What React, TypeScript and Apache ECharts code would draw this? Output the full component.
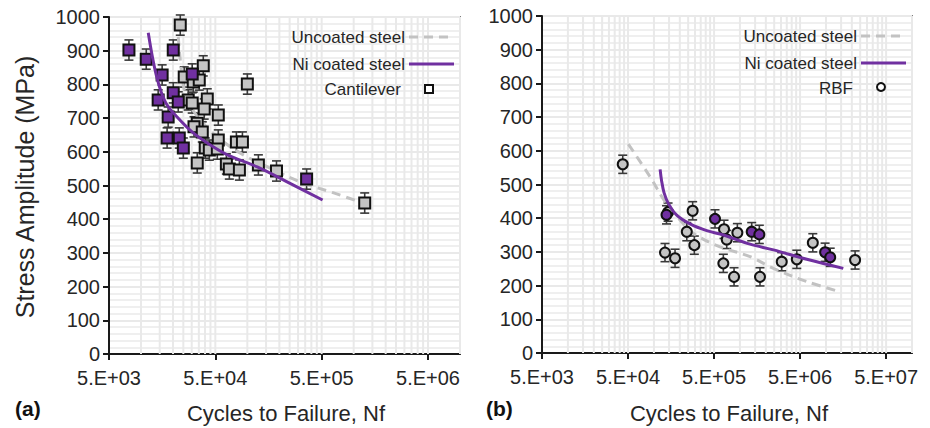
import React, { useEffect, useRef } from "react";
import * as echarts from "echarts";

const FONT = '"Liberation Sans", Arial, Helvetica, sans-serif';
const TEXT = "#262626";
const AXIS = "#1a1a1a";
const PURPLE = "#7030a0";
const GRAY_FILL = "#c4c4c4";
const DASH_GRAY = "#c2c2c2";
const GRID = "#e9e9e9";

// Axis tick labels
const tickLabelsA = ["5.E+03", "5.E+04", "5.E+05", "5.E+06"];
const tickLabelsB = ["5.E+03", "5.E+04", "5.E+05", "5.E+06", "5.E+07"];
const xMinN = 5000;
const xMaxNA = 1e7;
const xMaxNB = 1e8;

// (a) Cantilever - uncoated steel (gray squares)
const uncoatedA_N = [23400, 25500, 31000, 35300, 38500, 42000, 27800, 30300, 39300, 53300, 33800, 31500, 37700, 53300, 40200, 43900, 52200, 33800, 63500, 67700, 84200, 78900, 89900, 100000, 127000, 188000, 1270000];
const uncoatedA_S = [976, 822, 807, 813, 855, 757, 754, 745, 727, 709, 685, 674, 659, 635, 611, 605, 608, 567, 564, 549, 546, 629, 629, 801, 561, 543, 448];
// (a) Cantilever - Ni coated steel (purple squares)
const coatedA_N = [7700, 11200, 15800, 14500, 18000, 17600, 20100, 20100, 22400, 22900, 25000, 30300, 361000];
const coatedA_S = [902, 875, 828, 754, 703, 641, 902, 775, 748, 641, 611, 831, 519];
const errA = 30;

// (a) fit curves
const fitCoatedA_N = [11700, 12700, 13900, 15500, 17600, 21900, 31000, 44900, 64900, 124000, 239000, 510000];
const fitCoatedA_S = [953, 887, 828, 777, 739, 703, 656, 620, 591, 555, 510, 457];
const fitUncoatedA_N = [22400, 24400, 27200, 36100, 52200, 86100, 155000, 317000, 649000, 1220000];
const fitUncoatedA_S = [941, 822, 754, 694, 644, 596, 555, 510, 478, 448];

// (b) RBF - uncoated steel (gray circles)
const uncoatedB_N = [43400, 146000, 282000, 241000, 295000, 134500, 176000, 653000, 702000, 933000, 641000, 854000, 1710000, 3060000, 4580000, 7030000, 21800000];
const uncoatedB_S = [560, 418, 422, 360, 320, 298, 281, 367, 337, 357, 266, 226, 226, 271, 278, 327, 276];
// (b) RBF - Ni coated steel (purple circles)
const coatedB_N = [140000, 513000, 1370000, 1680000, 9770000, 11200000];
const coatedB_S = [410, 398, 360, 352, 299, 284];
const errB = 27;

// (b) fit curves
const fitCoatedB_N = [118000, 123000, 131000, 147000, 184000, 263000, 411000, 641000, 1310000, 2450000, 5980000, 15900000];
const fitCoatedB_S = [545, 510, 476, 444, 409, 383, 363, 350, 323, 306, 278, 251];
const fitUncoatedB_N = [50400, 90100, 134600, 201000, 287000, 587000, 1310000, 2450000, 5980000, 14400000];
const fitUncoatedB_S = [620, 523, 449, 395, 355, 315, 286, 251, 212, 182];

const u = (n: number) => Math.log10(n / xMinN);
const pairs = (ns: number[], ss: number[]) => ns.map((n, i) => [u(n), ss[i]]);
const triples = (ns: number[], ss: number[], e: number) => ns.map((n, i) => [u(n), ss[i], e]);

function gridValues(maxU: number) {
  const out: number[] = [];
  for (let d = 0; d <= Math.ceil(maxU); d++) {
    for (let k = 1; k <= 9; k++) {
      const v = d + Math.log10(k);
      if (v > 0.001 && v <= maxU + 1e-9) out.push(v);
    }
  }
  return out;
}

function xAxisFor(gridIndex: number, labels: string[], maxN: number) {
  const ticks = labels.map((_, i) => i);
  return {
    gridIndex,
    type: "value",
    min: 0,
    max: u(maxN),
    axisLine: { show: true, onZero: false, lineStyle: { color: AXIS, width: 2 } },
    axisTick: { show: true, customValues: ticks, length: 6, inside: false, lineStyle: { color: AXIS, width: 2 } },
    axisLabel: {
      customValues: ticks,
      formatter: (v: number) => labels[Math.round(v)] ?? "",
      fontSize: 20,
      fontFamily: FONT,
      color: TEXT,
      margin: 14,
    },
    splitLine: { show: false },
  };
}

function yAxisFor(gridIndex: number) {
  return {
    gridIndex,
    type: "value",
    min: 0,
    max: 1000,
    interval: 100,
    axisLine: { show: true, lineStyle: { color: AXIS, width: 2 } },
    axisTick: { show: true, length: 6, lineStyle: { color: AXIS, width: 2 } },
    axisLabel: { fontSize: 20, fontFamily: FONT, color: TEXT, margin: 9, formatter: (v: number) => String(v) },
    splitLine: { show: true, lineStyle: { color: GRID, width: 2 } },
    minorTick: { show: false, splitNumber: 5 },
    minorSplitLine: { show: true, lineStyle: { color: "#efefef", width: 2 } },
  };
}

function gridSeries(idx: number, maxN: number) {
  return {
    type: "custom",
    xAxisIndex: idx,
    yAxisIndex: idx,
    silent: true,
    z: 1,
    data: gridValues(u(maxN)).map((v) => [v, 0]),
    encode: { x: 0, y: 1 },
    renderItem: (params: any, api: any) => {
      const p = api.coord([api.value(0), 0]);
      const cs = params.coordSys;
      return {
        type: "line",
        shape: { x1: p[0], y1: cs.y, x2: p[0], y2: cs.y + cs.height },
        style: { stroke: GRID, lineWidth: 2 },
      };
    },
  };
}

function errorSeries(idx: number, data: number[][]) {
  return {
    type: "custom",
    xAxisIndex: idx,
    yAxisIndex: idx,
    silent: true,
    z: 3,
    data,
    encode: { x: 0, y: 1 },
    renderItem: (_params: any, api: any) => {
      const x = api.value(0);
      const y = api.value(1);
      const e = api.value(2);
      const top = api.coord([x, y + e]);
      const bot = api.coord([x, y - e]);
      const w = 4.5;
      const st = { stroke: "#3a3a3a", lineWidth: 1.6 };
      return {
        type: "group",
        children: [
          { type: "line", shape: { x1: top[0], y1: top[1], x2: bot[0], y2: bot[1] }, style: st },
          { type: "line", shape: { x1: top[0] - w, y1: top[1], x2: top[0] + w, y2: top[1] }, style: st },
          { type: "line", shape: { x1: bot[0] - w, y1: bot[1], x2: bot[0] + w, y2: bot[1] }, style: st },
        ],
      };
    },
  };
}

function scatterSeries(idx: number, data: number[][], symbol: string, fill: string) {
  return {
    type: "scatter",
    xAxisIndex: idx,
    yAxisIndex: idx,
    symbol,
    symbolSize: symbol === "rect" ? 11 : 10,
    z: 4,
    data,
    itemStyle: { color: fill, borderColor: "#111111", borderWidth: 2, opacity: 1 },
  };
}

function lineSeries(idx: number, data: number[][], color: string, dashed: boolean) {
  return {
    type: "line",
    xAxisIndex: idx,
    yAxisIndex: idx,
    showSymbol: false,
    smooth: 0.35,
    z: dashed ? 3.5 : 5,
    data,
    lineStyle: { color, width: 3, type: dashed ? [9, 6] : "solid" },
  };
}

function legendGraphic(x: number, y: number, thirdLabel: string, marker: "rect" | "circle", markerX: number) {
  const textStyle = { fontSize: 17, fontFamily: FONT, fill: TEXT, align: "right", verticalAlign: "middle" };
  const items: any[] = [
    { type: "text", z: 100, x, y: y, style: { ...textStyle, text: "Uncoated steel" } },
    { type: "line", z: 100, shape: { x1: x + 4, y1: y, x2: x + 49, y2: y }, style: { stroke: DASH_GRAY, lineWidth: 3, lineDash: [9, 6] } },
    { type: "text", z: 100, x, y: y + 27, style: { ...textStyle, text: "Ni coated steel" } },
    { type: "line", z: 100, shape: { x1: x + 4, y1: y + 27, x2: x + 49, y2: y + 27 }, style: { stroke: PURPLE, lineWidth: 3 } },
    { type: "text", z: 100, x: x - 4, y: y + 52, style: { ...textStyle, text: thirdLabel } },
  ];
  if (marker === "rect") {
    items.push({ type: "rect", z: 100, shape: { x: markerX - 4, y: y + 52 - 4, width: 8, height: 8 }, style: { fill: "#ffffff", stroke: "#111111", lineWidth: 2 } });
  } else {
    items.push({ type: "circle", z: 100, shape: { cx: markerX, cy: y + 51, r: 4 }, style: { fill: "#ffffff", stroke: "#111111", lineWidth: 2 } });
  }
  return items;
}

export default function App() {
  const ref = useRef<HTMLDivElement>(null);
  useEffect(() => {
    if (!ref.current) return;
    const chart = echarts.init(ref.current, undefined, { renderer: "svg" });
    const option: any = {
      animation: false,
      backgroundColor: "#ffffff",
      textStyle: { fontFamily: FONT },
      grid: [
        { left: 109, top: 17, width: 351, height: 337, show: true, borderColor: AXIS, borderWidth: 1.5, backgroundColor: "transparent" },
        { left: 542, top: 16, width: 370, height: 337, show: true, borderColor: AXIS, borderWidth: 1.5, backgroundColor: "transparent" },
      ],
      xAxis: [xAxisFor(0, tickLabelsA, xMaxNA), xAxisFor(1, tickLabelsB, xMaxNB)],
      yAxis: [yAxisFor(0), yAxisFor(1)],
      series: [
        gridSeries(0, xMaxNA),
        gridSeries(1, xMaxNB),
        lineSeries(0, pairs(fitUncoatedA_N, fitUncoatedA_S), DASH_GRAY, true),
        lineSeries(1, pairs(fitUncoatedB_N, fitUncoatedB_S), DASH_GRAY, true),
        errorSeries(0, triples(uncoatedA_N, uncoatedA_S, errA)),
        errorSeries(0, triples(coatedA_N, coatedA_S, errA)),
        errorSeries(1, triples(uncoatedB_N, uncoatedB_S, errB)),
        errorSeries(1, triples(coatedB_N, coatedB_S, errB)),
        scatterSeries(0, pairs(uncoatedA_N, uncoatedA_S), "rect", GRAY_FILL),
        scatterSeries(0, pairs(coatedA_N, coatedA_S), "rect", PURPLE),
        scatterSeries(1, pairs(uncoatedB_N, uncoatedB_S), "circle", GRAY_FILL),
        scatterSeries(1, pairs(coatedB_N, coatedB_S), "circle", PURPLE),
        lineSeries(0, pairs(fitCoatedA_N, fitCoatedA_S), PURPLE, false),
        lineSeries(1, pairs(fitCoatedB_N, fitCoatedB_S), PURPLE, false),
      ],
      graphic: [
        ...legendGraphic(405, 37, "Cantilever", "rect", 429),
        ...legendGraphic(857, 36, "RBF", "circle", 881),
        {
          type: "text",
          z: 100,
          x: 25,
          y: 187,
          rotation: Math.PI / 2,
          style: { text: "Stress Amplitude (MPa)", fontSize: 25, fontFamily: FONT, fill: TEXT, align: "center", verticalAlign: "middle" },
        },
        { type: "text", z: 100, x: 286, y: 413, style: { text: "Cycles to Failure, Nf", fontSize: 22, fontFamily: FONT, fill: TEXT, align: "center", verticalAlign: "middle" } },
        { type: "text", z: 100, x: 729, y: 413, style: { text: "Cycles to Failure, Nf", fontSize: 22, fontFamily: FONT, fill: TEXT, align: "center", verticalAlign: "middle" } },
        { type: "text", z: 100, x: 15, y: 408, style: { text: "(a)", fontSize: 21, fontWeight: "bold", fontFamily: FONT, fill: "#111111", align: "left", verticalAlign: "middle" } },
        { type: "text", z: 100, x: 486, y: 408, style: { text: "(b)", fontSize: 21, fontWeight: "bold", fontFamily: FONT, fill: "#111111", align: "left", verticalAlign: "middle" } },
      ],
    };
    chart.setOption(option);
    return () => chart.dispose();
  }, []);
  return <div ref={ref} style={{ position: "fixed", left: 0, top: 0, width: 930, height: 428, background: "#fff" }} />;
}
